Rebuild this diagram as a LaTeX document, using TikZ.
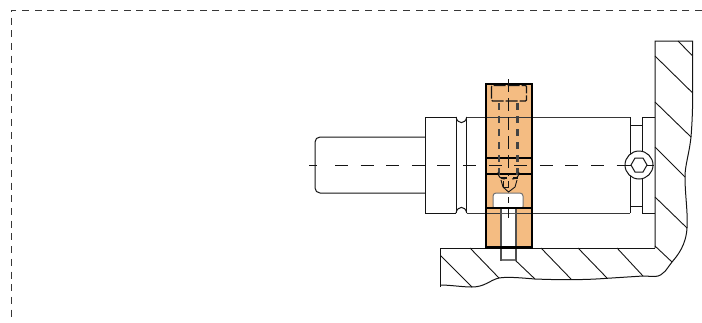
\documentclass[tikz,border=0pt]{standalone}
\definecolor{blockfill}{RGB}{244,188,130}
\definecolor{ink}{RGB}{20,20,20}
\tikzset{
  outline/.style={draw=ink,line width=1pt},
  hatchline/.style={draw=ink,line width=0.9pt},
  thick block/.style={draw=black,line width=2.2pt},
  frame line/.style={draw=ink!85,line width=1pt,dash pattern=on 7pt off 5.7pt},
  center line/.style={draw=ink,line width=1pt,dash pattern=on 13pt off 12.6pt},
  hidden line/.style={draw=ink,line width=1.2pt,dash pattern=on 12pt off 2pt},
  hidden thick/.style={draw=ink!80,line width=2.2pt,dash pattern=on 7pt off 6pt},
  cross bar/.style={draw=black,line width=2pt}
}
\begin{document}
\begin{tikzpicture}[x=1pt,y=-1pt]
\useasboundingbox (0,0) rectangle (702,322);
% outer dashed frame
\draw[frame line] (702,10) -- (11,10) -- (11,322);
% shaft
\draw[outline,rounded corners=5pt] (425.5,137) -- (315,137) -- (315,193) -- (425.5,193);
% body
\draw[outline] (456,117) -- (425.5,117) -- (425.5,213) -- (456,213);
\draw[outline] (456,117) .. controls (457.5,124.5) and (465.5,124.5) .. (466.7,117);
\draw[outline] (456,213) .. controls (457.5,205.5) and (465.5,205.5) .. (466.7,213);
\draw[outline] (456,117) -- (456,213);
\draw[outline] (466.7,117) -- (466.7,213);
% right-hand collar
\draw[outline] (630,117) -- (630,213);
\draw[outline] (642,117) -- (642,213);
\draw[outline] (630,125) -- (642,125);
\draw[outline] (630,206) -- (642,206);
\draw[outline] (642,117) -- (655,117);
\draw[outline] (642,213) -- (655,213);
% orange block
\fill[blockfill] (486,84) rectangle (532,247.5);
\draw[outline,draw=ink!85] (466.7,117) -- (630,117);
\draw[outline,draw=ink!85] (466.7,213) -- (630,213);
% housing outline
\draw[outline] (655,248) -- (655,41) -- (692.7,41) -- (692.7,93)
  .. controls (692.7,110) and (692,125) .. (691,137)
  .. controls (689,155) and (685,165) .. (685,177)
  .. controls (685,195) and (688,212) .. (687,228)
  .. controls (686,245) and (678,255) .. (672,262)
  .. controls (667,268) and (664,276) .. (655,276.5)
  .. controls (650,276.5) and (647,276) .. (643,276)
  -- (607,278.3)
  .. controls (585,280) and (560,280) .. (535,279)
  .. controls (522,278) and (508,276.5) .. (499,278)
  .. controls (490,280) and (485,287) .. (472,287)
  .. controls (462,287) and (450,285) .. (440.7,285);
\draw[outline] (440.7,287) -- (440.7,248) -- (655,248);
% hatching
\draw[hatchline] (440.7,255.7) -- (472,287);
\draw[hatchline] (470,248) -- (499,278);
\draw[hatchline] (515,260) -- (535,279);
\draw[hatchline] (541,248) -- (571,279);
\draw[hatchline] (578,248) -- (607,278);
\draw[hatchline] (617,248) -- (643,276);
\draw[hatchline] (655,246) -- (672,262);
\draw[hatchline] (655,197) -- (687,228);
\draw[hatchline] (655,147) -- (685,177);
\draw[hatchline] (655,102) -- (691,137);
\draw[hatchline] (655,56) -- (692.7,93);
\draw[hatchline] (678,41) -- (692.7,56);
% hole in block with bolt
\fill[white,rounded corners=3pt] (493,208) -- (493,193) -- (523,193) -- (523,208) -- cycle;
\draw[outline,draw=ink!60,rounded corners=3pt] (493,208) -- (493,193) -- (523,193) -- (523,208);
\fill[white] (501,208) rectangle (516,261);
\draw[draw=ink!75,line width=1.5pt] (501,208) -- (501,260.5) -- (516,260.5) -- (516,208);
\draw[draw=ink!60,line width=2pt] (502,260) -- (515,260);
\draw[draw=ink!70,line width=0.8pt] (501,213) -- (516,213);
\draw[hatchline] (508.5,197) -- (508.5,203);
\draw[hatchline] (508.5,208) -- (508.5,218);
\draw[thick block] (486,84) rectangle (532,247.5);
\draw[cross bar] (486,158) -- (532,158);
\draw[cross bar] (486,173.5) -- (532,173.5);
\draw[cross bar] (486,207.5) -- (532,207.5);
% hidden screw
\draw[hidden line,rounded corners=1pt] (491.5,85.5) -- (491.5,101) -- (526.5,101) -- (526.5,85.5) -- cycle;
\draw[hidden thick] (499.3,103) -- (499.3,176);
\draw[hidden thick] (517.5,103) -- (517.5,176);
\draw[draw=ink,line width=1pt] (498,172) .. controls (498,177) and (501,179) .. (505,179);
\draw[draw=ink,line width=1pt] (519,172) .. controls (519,177) and (516,179) .. (512,179);
\draw[draw=ink,line width=1.2pt] (501,178) -- (507,178);
\draw[draw=ink,line width=1.2pt] (513,178) -- (518,178);
\draw[draw=ink,line width=0.9pt] (501,180) -- (503,187) -- (508.5,192) -- (515,187) -- (517,180);
\draw[draw=ink,line width=0.9pt] (503,181) -- (503,187) -- (508,187) -- (508,181);
\draw[draw=ink,line width=1pt,dash pattern=on 13pt off 6pt] (508.5,79) -- (508.5,176);
% centre line
\draw[center line] (309,165) -- (317,165);
\draw[center line] (335,165) -- (630,165);
% socket screw
\draw[outline,fill=white] (639,165) circle[radius=14];
\draw[outline] (631,165) -- (635,158) -- (643,158) -- (647,165) -- (643,172) -- (635,172) -- cycle;
\draw[outline] (625,165) -- (631,165);
\draw[outline] (647,165) -- (654,165);
\end{tikzpicture}
\end{document}
